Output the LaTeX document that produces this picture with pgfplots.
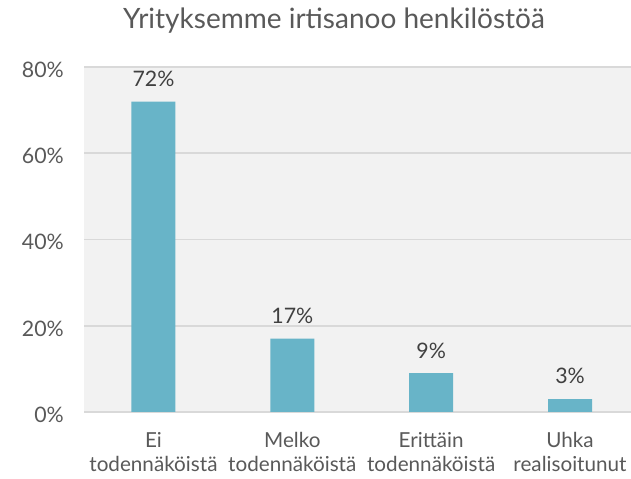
\documentclass[border=0pt]{standalone}
\usepackage{fontspec}
\setmainfont{Lato}
\usepackage{pgfplots}
\pgfplotsset{compat=1.18}
\definecolor{barcol}{RGB}{104,180,200}
\definecolor{bgcol}{RGB}{242,242,242}
\definecolor{gridcol}{RGB}{217,217,217}
\definecolor{txtcol}{RGB}{89,89,89}
\definecolor{lblcol}{RGB}{64,64,64}
\begin{document}
\begin{tikzpicture}
% 1 px of the reference = 0.75pt
\path[use as bounding box] (0pt,0pt) rectangle (473.25pt,358.5pt);
\node[font=\fontsize{21}{25}\selectfont, text=txtcol] at (250.5pt,342.75pt) {Yrityksemme irtisanoo henkilöstöä};
\begin{axis}[
  at={(63pt,49.5pt)}, anchor=south west,
  scale only axis, width=410.25pt, height=258.75pt,
  xmin=-0.5, xmax=3.439, ymin=0, ymax=80,
  enlargelimits=false,
  ybar, bar width=33pt,
  axis background/.style={fill=bgcol},
  axis line style={draw=none},
  ymajorgrids, grid style={gridcol, line width=1.3pt},
  major tick length=0pt,
  /pgf/number format/assume math mode=true,
  ytick={0,20,40,60,80},
  yticklabel={\pgfmathprintnumber{\tick}\%},
  yticklabel style={anchor=east, inner sep=0pt, xshift=-15pt, yshift=-2pt,
    font=\fontsize{16}{19}\selectfont, text=txtcol},
  xtick={0,1,2,3},
  xticklabels={{Ei\\todennäköistä},{Melko\\todennäköistä},{Erittäin\\todennäköistä},{Uhka\\realisoitunut}},
  xticklabel style={align=center, anchor=north, inner sep=0pt, yshift=-15pt,
    font=\fontsize{15.5}{18}\selectfont, text=txtcol},
  nodes near coords={\pgfmathprintnumber{\pgfplotspointmeta}\%},
  nodes near coords style={font=\fontsize{16}{19}\selectfont, text=lblcol, inner sep=0pt, yshift=11pt},
  clip=false,
]
\addplot[fill=barcol, draw=none] coordinates {(0,72) (1,17) (2,9) (3,3)};
\end{axis}
\end{tikzpicture}
\end{document}
